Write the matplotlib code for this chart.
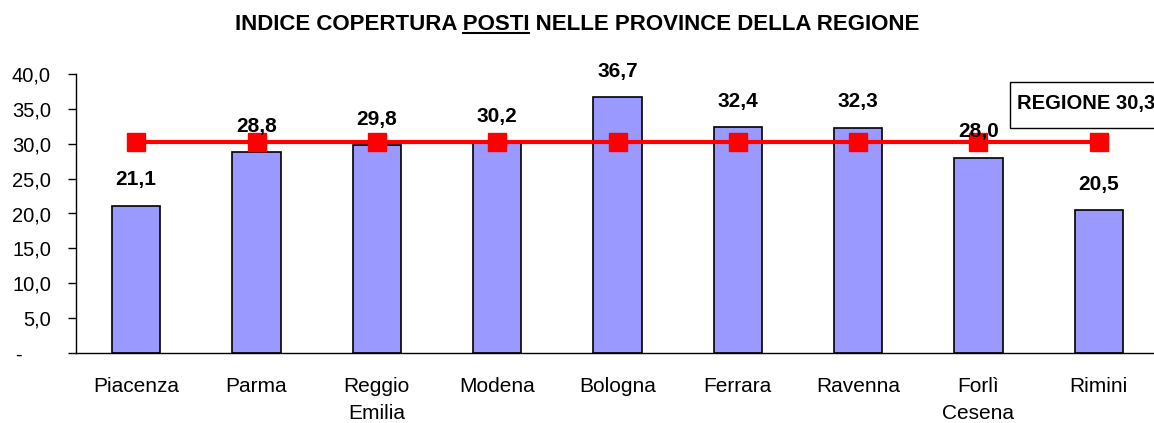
import matplotlib
matplotlib.use("Agg")
from matplotlib import pyplot as plt
from matplotlib.lines import Line2D
from matplotlib.patches import Rectangle

provinces = ["Piacenza", "Parma", "Reggio\nEmilia", "Modena", "Bologna",
             "Ferrara", "Ravenna", "Forlì\nCesena", "Rimini"]
values = [21.1, 28.8, 29.8, 30.2, 36.7, 32.4, 32.3, 28.0, 20.5]
regione = 30.3
yticks = [0, 5, 10, 15, 20, 25, 30, 35, 40]
ytick_labels = ["-     ", "5,0", "10,0", "15,0", "20,0", "25,0", "30,0", "35,0", "40,0"]

plt.rcParams["font.family"] = ["Liberation Sans", "DejaVu Sans"]

W, H = 1154, 423
fig = plt.figure(figsize=(W / 100, H / 100), dpi=100)
# axes box in pixels: left 76, right 1159, top y=74 (40), bottom y=353 (0)
ax = fig.add_axes([76 / W, (H - 353) / H, (1159 - 76) / W, (353 - 74) / H])

x = list(range(len(provinces)))
ax.bar(x, values, width=0.4, color="#9999FF", edgecolor="black", linewidth=1.2, zorder=2)
ax.plot(x, [regione] * len(x), color="#FF0000", linewidth=3, marker="s",
        markersize=13, markerfacecolor="#FF0000", markeredgecolor="#FF0000", zorder=3)

for xi, v in zip(x, values):
    ax.annotate(f"{v:.1f}".replace(".", ","), (xi, v), xytext=(0, 26),
                textcoords="offset pixels", ha="center", va="center",
                fontsize=15, fontweight="bold", zorder=4)

ax.set_xlim(-0.5, len(x) - 0.5)
ax.set_ylim(0, 40)
ax.set_yticks(yticks)
ax.set_yticklabels(ytick_labels, fontsize=14.5)
ax.set_xticks(x)
ax.set_xticklabels(provinces, fontsize=15, linespacing=1.55)
ax.tick_params(axis="x", length=0, pad=17)
ax.tick_params(axis="y", direction="out", length=6, width=1, pad=12)
for s in ["top", "right"]:
    ax.spines[s].set_visible(False)
ax.spines["left"].set_linewidth(1)
ax.spines["bottom"].set_linewidth(1)

# regional value box (runs off the right edge)
fig.add_artist(Rectangle((1010 / W, 1 - 128 / H), 160 / W, 46 / H, facecolor="white",
                         edgecolor="black", linewidth=1, transform=fig.transFigure, zorder=5))
fig.text(1017 / W, 1 - 104 / H, f"REGIONE {regione:.1f}".replace(".", ","),
         fontsize=14.5, fontweight="bold", ha="left", va="center", zorder=6)

# title with underlined word
title = "INDICE COPERTURA POSTI NELLE PROVINCE DELLA REGIONE"
fs = 16
t = fig.text(0.5, 1 - 25 / H, title, fontsize=fs, fontweight="bold",
             ha="center", va="center")
renderer = fig.canvas.get_renderer()
bb = t.get_window_extent(renderer)
pre = fig.text(0, 0, "INDICE COPERTURA ", fontsize=fs, fontweight="bold")
word = fig.text(0, 0, "POSTI", fontsize=fs, fontweight="bold")
pw = pre.get_window_extent(renderer).width
ww = word.get_window_extent(renderer).width
pre.remove()
word.remove()
x0 = bb.x0 + pw
uy = bb.y0 + 2
fig.add_artist(Line2D([x0 / W, (x0 + ww) / W], [uy / H, uy / H], color="black",
                      linewidth=1.5, transform=fig.transFigure))

fig.savefig("out.png", dpi=100)
